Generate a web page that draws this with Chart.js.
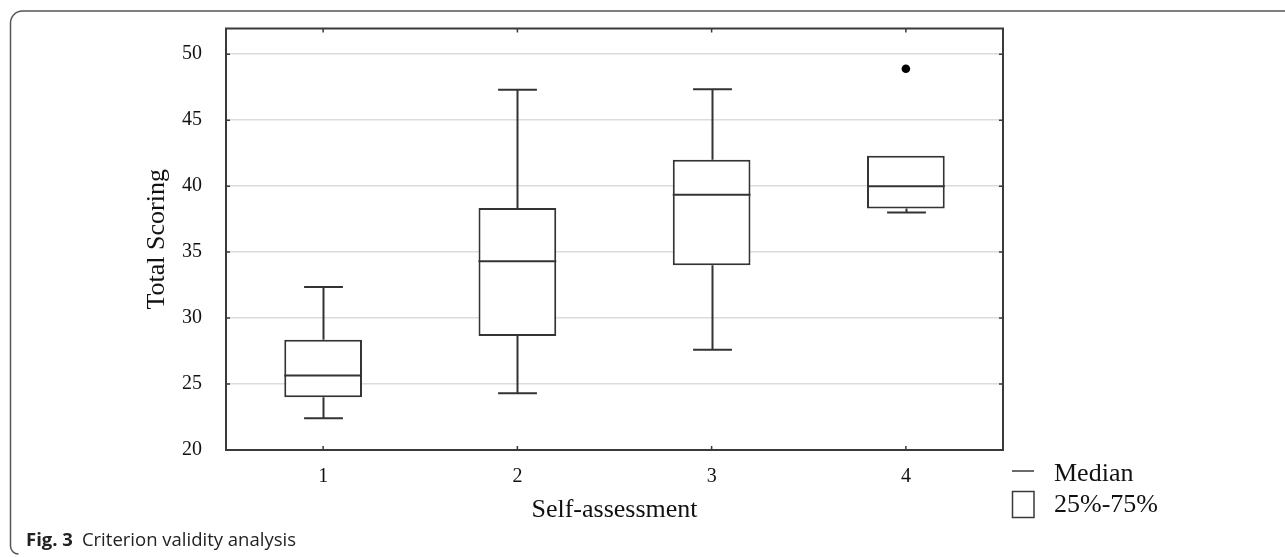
<!DOCTYPE html>
<html>
<head>
<meta charset="utf-8">
<script src="https://cdn.jsdelivr.net/npm/chart.js@4.4.1/dist/chart.umd.min.js"></script>
<style>
  html, body { margin: 0; padding: 0; background: #ffffff; }
  #wrap { position: relative; width: 1285px; height: 557px; }
</style>
</head>
<body>
<div id="wrap"><canvas id="c"></canvas></div>
<script>
// ---- data ----
const categories   = ['1', '2', '3', '4'];
const whiskerLow   = [22.4, 24.3, 27.6, 38.0];
const quartile1    = [24.0, 28.65, 34.0, 38.3];
const medianValues = [25.65, 34.3, 39.35, 40.0];
const quartile3    = [28.35, 38.35, 42.0, 42.3];
const whiskerHigh  = [32.35, 47.3, 47.35, 42.3];
const outlierValues = [null, null, null, 48.9];
const yTickValues  = [20, 25, 30, 35, 40, 45, 50];
const legendLabels = ['Median', '25%-75%'];
const captionBold  = 'Fig. 3';
const captionText  = 'Criterion validity analysis';
const xTitle = 'Self-assessment';
const yTitle = 'Total Scoring';

const INK = '#333333';
const SERIF = '"Liberation Serif", "DejaVu Serif", serif';

const boxPlotPlugin = {
  id: 'boxPlotExtras',
  beforeDatasetsDraw(chart) {
    const ctx = chart.ctx;
    const meta = chart.getDatasetMeta(0);
    const y = chart.scales.y;
    ctx.save();
    ctx.strokeStyle = INK;
    ctx.lineWidth = 2;
    meta.data.forEach((bar, i) => {
      const x = Math.round(bar.x) + 0.5;
      const capHalf = bar.width / 4;
      const yLo = y.getPixelForValue(whiskerLow[i]);
      const yQ1 = y.getPixelForValue(quartile1[i]);
      const yQ3 = y.getPixelForValue(quartile3[i]);
      const yHi = y.getPixelForValue(whiskerHigh[i]);
      ctx.beginPath();
      ctx.moveTo(x, yQ1); ctx.lineTo(x, yLo);
      ctx.moveTo(x - capHalf, yLo); ctx.lineTo(x + capHalf, yLo);
      if (whiskerHigh[i] > quartile3[i]) {
        ctx.moveTo(x, yQ3); ctx.lineTo(x, yHi);
        ctx.moveTo(x - capHalf, yHi); ctx.lineTo(x + capHalf, yHi);
      }
      ctx.stroke();
    });
    ctx.restore();
  },
  afterDatasetsDraw(chart) {
    const ctx = chart.ctx;
    const meta = chart.getDatasetMeta(0);
    const y = chart.scales.y;
    const xs = chart.scales.x;
    const a = chart.chartArea;
    ctx.save();
    ctx.strokeStyle = INK;
    ctx.lineWidth = 2;
    meta.data.forEach((bar, i) => {
      const ym = y.getPixelForValue(medianValues[i]);
      ctx.beginPath();
      ctx.moveTo(bar.x - bar.width / 2, ym);
      ctx.lineTo(bar.x + bar.width / 2, ym);
      ctx.stroke();
    });
    ctx.strokeStyle = '#3a3a3a';
    ctx.lineWidth = 2;
    ctx.strokeRect(a.left, a.top, a.right - a.left, a.bottom - a.top);
    ctx.lineWidth = 1.5;
    ctx.beginPath();
    yTickValues.forEach(v => {
      const py = y.getPixelForValue(v);
      ctx.moveTo(a.left, py); ctx.lineTo(a.left + 4, py);
      ctx.moveTo(a.right, py); ctx.lineTo(a.right - 4, py);
    });
    categories.forEach((c, i) => {
      const px = xs.getPixelForValue(i);
      ctx.moveTo(px, a.bottom); ctx.lineTo(px, a.bottom - 4);
      ctx.moveTo(px, a.top); ctx.lineTo(px, a.top + 4);
    });
    ctx.stroke();
    ctx.restore();
  },
  afterDraw(chart) {
    const ctx = chart.ctx;
    ctx.save();
    // legend
    ctx.strokeStyle = '#3a3a3a';
    ctx.lineWidth = 1.5;
    ctx.beginPath();
    ctx.moveTo(1012, 471); ctx.lineTo(1034, 471);
    ctx.stroke();
    ctx.strokeRect(1012.5, 491.5, 21.5, 26);
    ctx.fillStyle = '#111111';
    ctx.font = '26px ' + SERIF;
    ctx.textAlign = 'left';
    ctx.textBaseline = 'alphabetic';
    ctx.fillText(legendLabels[0], 1054, 481);
    ctx.fillText(legendLabels[1], 1054, 512);
    // outer figure frame (top + left, rounded corners)
    ctx.strokeStyle = '#555555';
    ctx.lineWidth = 1.5;
    ctx.beginPath();
    ctx.moveTo(1290, 11);
    ctx.lineTo(23, 11);
    ctx.arcTo(10.5, 11, 10.5, 24, 12);
    ctx.lineTo(10.5, 546);
    ctx.arcTo(10.5, 554, 18, 554, 8);
    ctx.stroke();
    // caption
    ctx.fillStyle = '#222222';
    ctx.font = 'bold 18.5px "Open Sans", "Noto Sans", sans-serif';
    ctx.fillText(captionBold, 26, 546);
    const w = ctx.measureText(captionBold).width;
    ctx.font = '18.5px "Open Sans", "Noto Sans", sans-serif';
    ctx.fillText(captionText, 26 + w + 9, 546);
    ctx.restore();
  }
};

new Chart(document.getElementById('c'), {
  data: {
    labels: categories,
    datasets: [
      {
        type: 'bar',
        data: categories.map((c, i) => [quartile1[i], quartile3[i]]),
        backgroundColor: '#ffffff',
        borderColor: INK,
        borderWidth: 2,
        borderSkipped: false,
        barPercentage: 0.4,
        categoryPercentage: 1.0
      },
      {
        type: 'line',
        data: outlierValues,
        showLine: false,
        pointRadius: 4.3,
        pointBackgroundColor: '#000000',
        pointBorderColor: '#000000',
        pointBorderWidth: 0
      }
    ]
  },
  options: {
    responsive: true,
    maintainAspectRatio: false,
    animation: false,
    events: [],
    layout: { padding: { left: 130, right: 282, top: 28.5, bottom: 27 } },
    plugins: { legend: { display: false }, tooltip: { enabled: false } },
    scales: {
      x: {
        type: 'category',
        offset: true,
        grid: { display: false, drawTicks: false },
        border: { display: false },
        ticks: { color: '#111111', font: { family: SERIF, size: 20 }, padding: 15, maxRotation: 0 },
        title: { display: true, text: xTitle, color: '#111111', font: { family: SERIF, size: 26 }, padding: { top: 0, bottom: 4 } },
        afterFit(scale) { scale.height = 80; scale.paddingLeft = 0; scale.paddingRight = 0; }
      },
      y: {
        type: 'linear',
        min: 20,
        max: 51.95,
        afterBuildTicks(scale) { scale.ticks = yTickValues.map(v => ({ value: v })); },
        grid: {
          drawTicks: false,
          color: c => (c.tick && c.tick.value === 20) ? 'rgba(0,0,0,0)' : '#dcdcdc',
          lineWidth: 1.5
        },
        border: { display: false },
        ticks: { color: '#111111', font: { family: SERIF, size: 20 }, padding: 24 },
        title: { display: true, text: yTitle, color: '#111111', font: { family: SERIF, size: 26 }, padding: { top: 12, bottom: 0 } },
        afterFit(scale) { scale.width = 96; scale.paddingTop = 0; scale.paddingBottom = 0; }
      }
    }
  },
  plugins: [boxPlotPlugin]
});
</script>
</body>
</html>
